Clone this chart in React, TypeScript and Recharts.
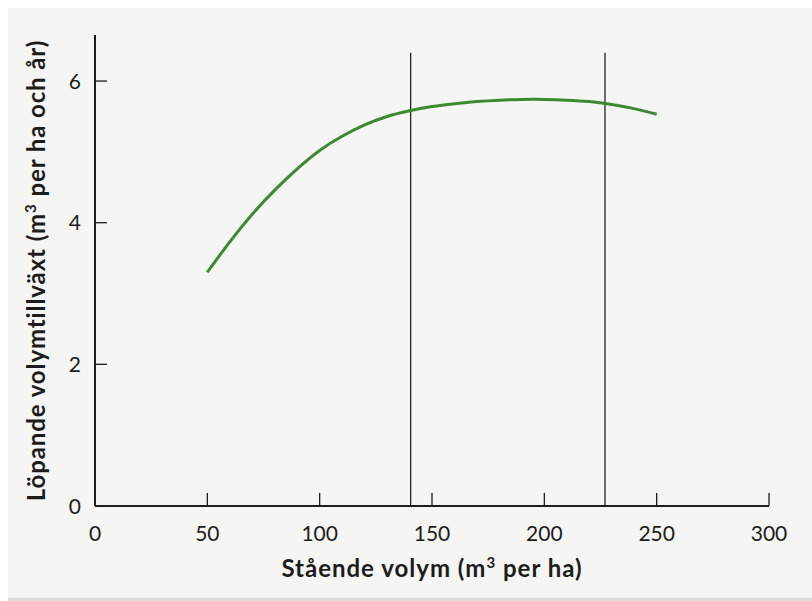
import React from "react";
import { LineChart, Line, XAxis, YAxis, ReferenceLine, Label } from "recharts";

// standing volume (m3/ha) and current volume increment (m3/ha/year)
const volume = [50, 60, 70, 80, 90, 100, 110, 120, 130, 140, 150, 160, 170, 180, 190, 200, 210, 220, 230, 240, 250];
const increment = [3.3, 3.73, 4.12, 4.46, 4.76, 5.02, 5.22, 5.38, 5.5, 5.58, 5.64, 5.68, 5.71, 5.73, 5.74, 5.74, 5.73, 5.71, 5.67, 5.61, 5.53];
const xTicks = [0, 50, 100, 150, 200, 250, 300];
const yTicks = [0, 2, 4, 6];
const markers = [140.5, 227];
const markerTop = 6.4;

const data = volume.map((v, i) => ({ x: v, y: increment[i] }));

const FONT = "Lato, 'Open Sans', sans-serif";
const INK = "#1c1c1c";

const XTick = (props: any) => {
  const { x, y, payload } = props;
  return (
    <g>
      <line x1={x} y1={y} x2={x} y2={y - 13} stroke={INK} strokeWidth={1.3} />
      <text x={x} y={y + 35} textAnchor="middle" fontFamily={FONT} fontSize={21} fill={INK}>
        {payload.value}
      </text>
    </g>
  );
};

const YTick = (props: any) => {
  const { x, y, payload } = props;
  return (
    <g>
      <line x1={x} y1={y} x2={x + 12} y2={y} stroke={INK} strokeWidth={1.3} />
      <text x={x - 14} y={y} dy="0.36em" textAnchor="end" fontFamily={FONT} fontSize={21} fill={INK}>
        {payload.value}
      </text>
    </g>
  );
};

const XTitle = (props: any) => {
  const { viewBox } = props;
  const cx = viewBox.x + viewBox.width / 2;
  return (
    <text x={cx} y={viewBox.y + 71} textAnchor="middle" fontFamily={FONT} fontWeight="bold" fontSize={24} letterSpacing={1} fill={INK}>
      Stående volym (m<tspan dy={-9} fontSize={15}>3</tspan>
      <tspan dy={9}> per ha)</tspan>
    </text>
  );
};

const YTitle = (props: any) => {
  const { viewBox } = props;
  const x = viewBox.x + 37;
  const cy = viewBox.y + viewBox.height / 2;
  return (
    <text x={x} y={cy} transform={`rotate(-90, ${x}, ${cy})`} textAnchor="middle" fontFamily={FONT} fontWeight="bold" fontSize={24} letterSpacing={0.9} fill={INK}>
      Löpande volymtillväxt (m<tspan dy={-9} fontSize={15}>3</tspan>
      <tspan dy={9}> per ha och år)</tspan>
    </text>
  );
};

export default function App() {
  return (
    <div
      style={{
        position: "absolute",
        left: 8,
        top: 8,
        width: 804,
        height: 590,
        background: "#f5f5f3",
        borderBottom: "3px solid #dcdcdc",
      }}
    >
      <LineChart width={804} height={590} data={data} margin={{ top: 27, right: 43, bottom: 0, left: 0 }}>
        <XAxis
          dataKey="x"
          type="number"
          domain={[0, 300]}
          ticks={xTicks}
          height={92}
          tickSize={0}
          tickMargin={0}
          tickLine={false}
          tick={<XTick />}
          axisLine={{ stroke: INK, strokeWidth: 2 }}
        >
          <Label content={<XTitle />} />
        </XAxis>
        <YAxis
          type="number"
          domain={[0, 6.65]}
          allowDataOverflow
          ticks={yTicks}
          width={87}
          tickSize={0}
          tickMargin={0}
          tickLine={false}
          tick={<YTick />}
          axisLine={{ stroke: INK, strokeWidth: 2 }}
        >
          <Label content={<YTitle />} />
        </YAxis>
        {markers.map((m) => (
          <ReferenceLine
            key={m}
            segment={[{ x: m, y: 0 }, { x: m, y: markerTop }]}
            stroke="#111"
            strokeWidth={1.2}
          />
        ))}
        <Line
          type="natural"
          dataKey="y"
          stroke="#3b8a30"
          strokeWidth={3}
          dot={false}
          isAnimationActive={false}
        />
      </LineChart>
    </div>
  );
}
